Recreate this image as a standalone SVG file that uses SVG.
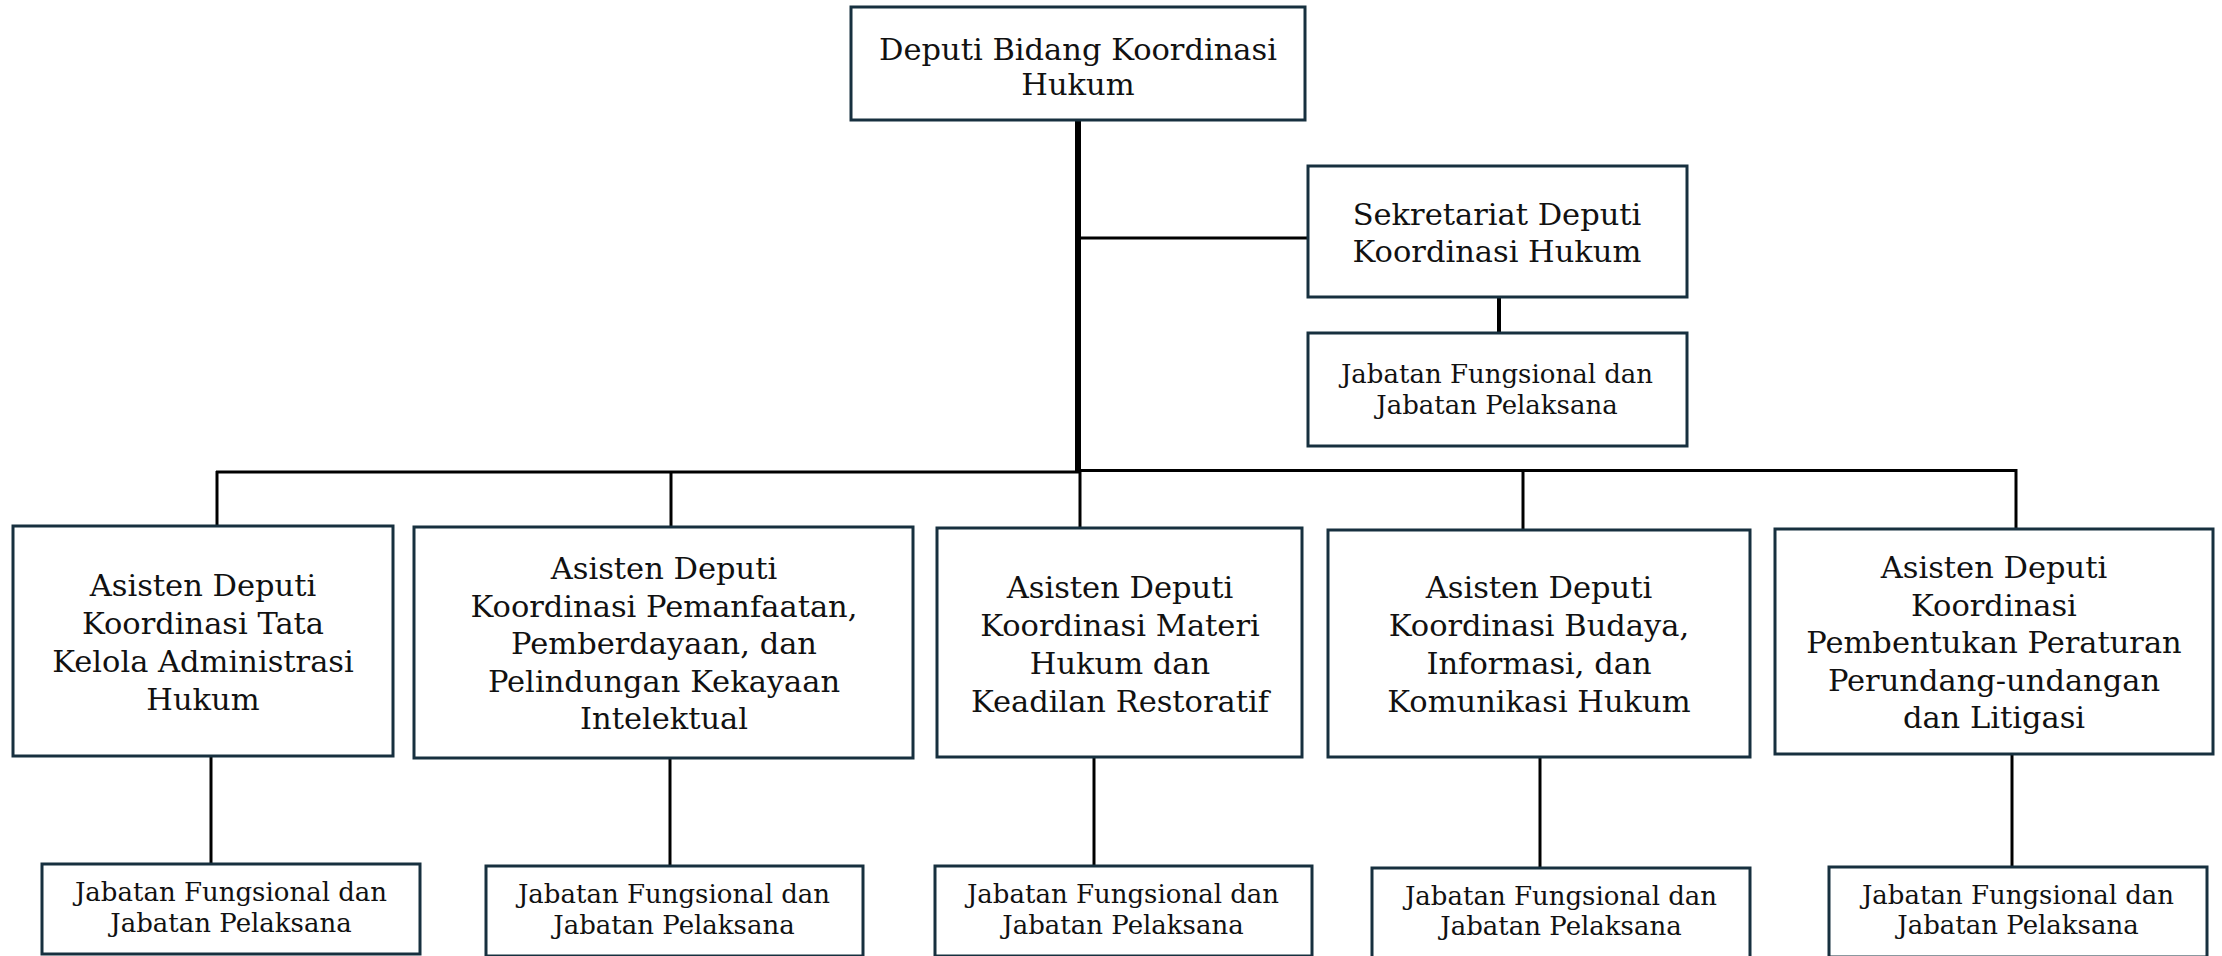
<svg xmlns="http://www.w3.org/2000/svg" width="2222" height="956" viewBox="0 0 2222 956">
  <style>
    .box { fill: #ffffff; stroke: #17303f; stroke-width: 3; }
    .lbl { font-family: "DejaVu Serif", "Liberation Serif", serif; font-size: 30.5px; fill: #111111; text-anchor: middle; }
    .sm { font-size: 26px; }
    .ln { stroke: #000000; stroke-width: 3; fill: none; }
    .thick { stroke-width: 6; }
  </style>
  <rect width="2222" height="956" fill="#ffffff"/>

  <!-- connectors -->
  <g id="connectors">
    <line class="ln thick" x1="1078" y1="118" x2="1078" y2="471"/>
    <line class="ln" x1="1078" y1="238" x2="1309" y2="238"/>
    <line class="ln" x1="1499" y1="296" x2="1499" y2="335" style="stroke-width:4"/>
    <line class="ln" x1="216" y1="472" x2="1080" y2="472"/>
    <line class="ln" x1="1078" y1="470.5" x2="2017" y2="470.5"/>
    <line class="ln" x1="217" y1="471" x2="217" y2="526"/>
    <line class="ln" x1="671" y1="471" x2="671" y2="527"/>
    <line class="ln" x1="1080" y1="470" x2="1080" y2="528"/>
    <line class="ln" x1="1523" y1="470" x2="1523" y2="530"/>
    <line class="ln" x1="2016" y1="469" x2="2016" y2="529"/>
    <line class="ln" x1="211" y1="756" x2="211" y2="865"/>
    <line class="ln" x1="670" y1="758" x2="670" y2="866"/>
    <line class="ln" x1="1094" y1="757" x2="1094" y2="867"/>
    <line class="ln" x1="1540" y1="757" x2="1540" y2="868"/>
    <line class="ln" x1="2012" y1="754" x2="2012" y2="867"/>
  </g>

  <g id="deputi">
    <rect class="box" x="851" y="7" width="454" height="113"/>
    <text class="lbl" x="1078" y="60">Deputi Bidang Koordinasi</text>
    <text class="lbl" x="1078" y="95">Hukum</text>
  </g>

  <g id="sekretariat">
    <rect class="box" x="1308" y="166" width="379" height="131"/>
    <text class="lbl" x="1497" y="225">Sekretariat Deputi</text>
    <text class="lbl" x="1497" y="262">Koordinasi Hukum</text>
  </g>

  <g id="jf-sekretariat">
    <rect class="box" x="1308" y="333" width="379" height="113"/>
    <text class="lbl sm" x="1497" y="383">Jabatan Fungsional dan</text>
    <text class="lbl sm" x="1497" y="414">Jabatan Pelaksana</text>
  </g>

  <g id="asdep-tata-kelola">
    <rect class="box" x="13" y="526" width="380" height="230"/>
    <text class="lbl" x="203" y="596">Asisten Deputi</text>
    <text class="lbl" x="203" y="634">Koordinasi Tata</text>
    <text class="lbl" x="203" y="672">Kelola Administrasi</text>
    <text class="lbl" x="203" y="710">Hukum</text>
  </g>

  <g id="asdep-kekayaan-intelektual">
    <rect class="box" x="414" y="527" width="499" height="231"/>
    <text class="lbl" x="664" y="579">Asisten Deputi</text>
    <text class="lbl" x="664" y="617">Koordinasi Pemanfaatan,</text>
    <text class="lbl" x="664" y="654">Pemberdayaan, dan</text>
    <text class="lbl" x="664" y="692">Pelindungan Kekayaan</text>
    <text class="lbl" x="664" y="729">Intelektual</text>
  </g>

  <g id="asdep-materi-hukum">
    <rect class="box" x="937" y="528" width="365" height="229"/>
    <text class="lbl" x="1120" y="598">Asisten Deputi</text>
    <text class="lbl" x="1120" y="636">Koordinasi Materi</text>
    <text class="lbl" x="1120" y="674">Hukum dan</text>
    <text class="lbl" x="1120" y="712">Keadilan Restoratif</text>
  </g>

  <g id="asdep-budaya">
    <rect class="box" x="1328" y="530" width="422" height="227"/>
    <text class="lbl" x="1539" y="598">Asisten Deputi</text>
    <text class="lbl" x="1539" y="636">Koordinasi Budaya,</text>
    <text class="lbl" x="1539" y="674">Informasi, dan</text>
    <text class="lbl" x="1539" y="712">Komunikasi Hukum</text>
  </g>

  <g id="asdep-peraturan">
    <rect class="box" x="1775" y="529" width="438" height="225"/>
    <text class="lbl" x="1994" y="578">Asisten Deputi</text>
    <text class="lbl" x="1994" y="616">Koordinasi</text>
    <text class="lbl" x="1994" y="653">Pembentukan Peraturan</text>
    <text class="lbl" x="1994" y="691">Perundang-undangan</text>
    <text class="lbl" x="1994" y="728">dan Litigasi</text>
  </g>

  <g id="jf-tata-kelola">
    <rect class="box" x="42" y="864" width="378" height="90"/>
    <text class="lbl sm" x="231" y="901">Jabatan Fungsional dan</text>
    <text class="lbl sm" x="231" y="932">Jabatan Pelaksana</text>
  </g>

  <g id="jf-kekayaan-intelektual">
    <rect class="box" x="486" y="866" width="377" height="90"/>
    <text class="lbl sm" x="674" y="903">Jabatan Fungsional dan</text>
    <text class="lbl sm" x="674" y="934">Jabatan Pelaksana</text>
  </g>

  <g id="jf-materi-hukum">
    <rect class="box" x="935" y="866" width="377" height="90"/>
    <text class="lbl sm" x="1123" y="903">Jabatan Fungsional dan</text>
    <text class="lbl sm" x="1123" y="934">Jabatan Pelaksana</text>
  </g>

  <g id="jf-budaya">
    <rect class="box" x="1372" y="868" width="378" height="90"/>
    <text class="lbl sm" x="1561" y="905">Jabatan Fungsional dan</text>
    <text class="lbl sm" x="1561" y="935">Jabatan Pelaksana</text>
  </g>

  <g id="jf-peraturan">
    <rect class="box" x="1829" y="867" width="378" height="90"/>
    <text class="lbl sm" x="2018" y="904">Jabatan Fungsional dan</text>
    <text class="lbl sm" x="2018" y="934">Jabatan Pelaksana</text>
  </g>
</svg>
